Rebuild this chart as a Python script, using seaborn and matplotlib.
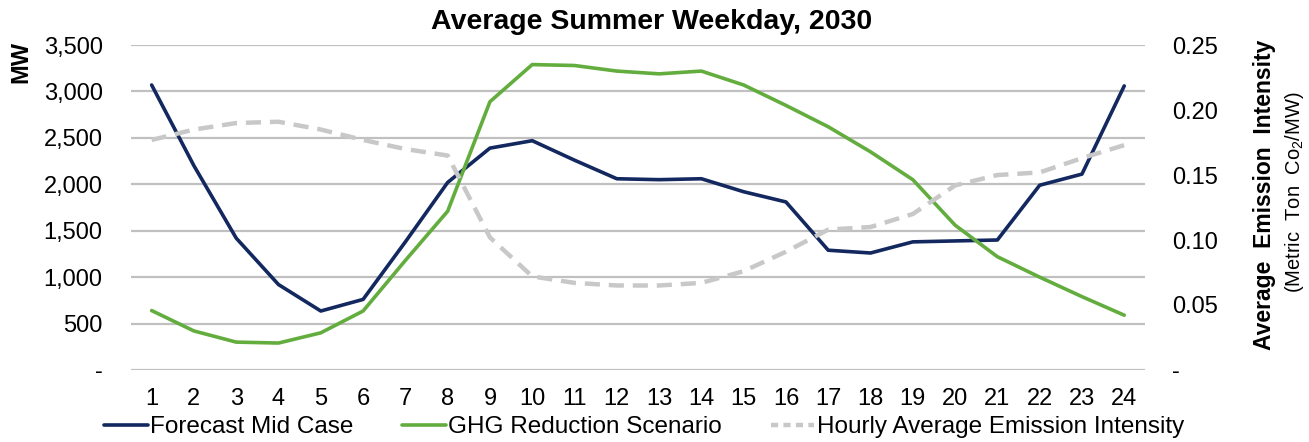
import numpy as np
import pandas as pd
import seaborn as sns
import matplotlib
matplotlib.use('Agg')
import matplotlib.pyplot as plt
from matplotlib.ticker import FuncFormatter
from matplotlib.lines import Line2D

# 数据
hours = list(range(1, 25))
forecast_mid = [3070, 2200, 1420, 920, 635, 760, 1380, 2020, 2390, 2470, 2260, 2060,
                2050, 2060, 1920, 1810, 1290, 1260, 1380, 1390, 1400, 1990, 2110, 3060]
ghg_reduction = [640, 420, 300, 290, 400, 635, 1180, 1710, 2890, 3290, 3280, 3220,
                 3190, 3220, 3070, 2850, 2620, 2350, 2050, 1560, 1220, 1000, 790, 590]
emission_intensity = [0.177, 0.185, 0.190, 0.191, 0.185, 0.177, 0.170, 0.165, 0.102, 0.072,
                      0.067, 0.065, 0.065, 0.067, 0.076, 0.091, 0.108, 0.110, 0.120, 0.142,
                      0.150, 0.152, 0.163, 0.173]

sns.set_style('white')
plt.rcParams['font.family'] = ['Liberation Sans', 'DejaVu Sans']
plt.rcParams['mathtext.fontset'] = 'custom'
plt.rcParams['mathtext.rm'] = 'Liberation Sans'
plt.rcParams['mathtext.default'] = 'regular'
plt.rcParams['text.color'] = 'black'
plt.rcParams['xtick.color'] = 'black'
plt.rcParams['ytick.color'] = 'black'

df = pd.DataFrame({
    'Hour': hours * 2,
    'MW': forecast_mid + ghg_reduction,
    'Series': ['Forecast Mid Case'] * 24 + ['GHG Reduction Scenario'] * 24,
})
df_em = pd.DataFrame({'Hour': hours, 'Intensity': emission_intensity})

navy = '#13285f'
green = '#63ad3f'
grey = '#c8c8c8'

fig = plt.figure(figsize=(13.09, 4.42), dpi=100)
ax = fig.add_axes([0.0997, 0.163, 0.7753, 0.735])
ax2 = ax.twinx()

sns.lineplot(data=df, x='Hour', y='MW', hue='Series', palette=[navy, green],
             linewidth=2.6, ax=ax, legend=False)
sns.lineplot(data=df_em, x='Hour', y='Intensity', color=grey, linewidth=3.2,
             ax=ax2, legend=False)
ax2.lines[0].set_linestyle((0, (3.4, 2.0)))

# 坐标轴
ax.set_xlim(0.5, 24.5)
ax.set_ylim(0, 3500)
ax2.set_ylim(0, 0.25)
ax.set_xticks(hours)
ax.set_yticks(np.arange(0, 3501, 500))
ax2.set_yticks(np.arange(0, 0.2501, 0.05))
ax.yaxis.set_major_formatter(FuncFormatter(lambda v, p: '-' if v == 0 else f'{v:,.0f}'))
ax2.yaxis.set_major_formatter(FuncFormatter(lambda v, p: '-' if abs(v) < 1e-9 else f'{v:.2f}'))

ax.grid(axis='y', color='#c0c0c0', linewidth=1.6)
ax.grid(axis='x', visible=False)
ax2.grid(False)
for a in (ax, ax2):
    for s in a.spines.values():
        s.set_visible(False)
ax.tick_params(axis='y', length=0, pad=20, labelsize=17)
ax.tick_params(axis='x', length=0, pad=13, labelsize=17)
ax2.tick_params(axis='y', length=0, pad=19, labelsize=17)
ax.set_xlabel('')
ax.set_ylabel('')
ax2.set_ylabel('')

# 标题和轴标签
fig.text(0.4975, 1 - 22 / 442, 'Average Summer Weekday, 2030', ha='center', va='center',
         fontsize=20.5, fontweight='bold')
fig.text(21 / 1309, 1 - 62 / 442, 'MW', rotation=90, ha='center', va='center',
         fontsize=17, fontweight='bold')
fig.text(1265 / 1309, 1 - 195 / 442, 'Average  Emission  Intensity', rotation=90,
         ha='center', va='center', fontsize=16.5, fontweight='bold')
fig.text(1295 / 1309, 1 - 192 / 442, '(Metric  Ton  Co$_2$/MW)', rotation=90,
         ha='center', va='center', fontsize=14.5)

# 图例
handles = [Line2D([0], [0], color=navy, linewidth=2.6),
           Line2D([0], [0], color=green, linewidth=2.6),
           Line2D([0], [0], color=grey, linewidth=3.2, linestyle=(0, (1.6, 1.2)))]
labels = ['Forecast Mid Case', 'GHG Reduction Scenario', 'Hourly Average Emission Intensity']
fig.legend(handles, labels, loc='center', bbox_to_anchor=(0.492, 1 - 427 / 442), ncol=3,
           frameon=False, fontsize=17.5, handlelength=1.8, handletextpad=0.1,
           columnspacing=2.0)

plt.savefig('out.png', dpi=100)
